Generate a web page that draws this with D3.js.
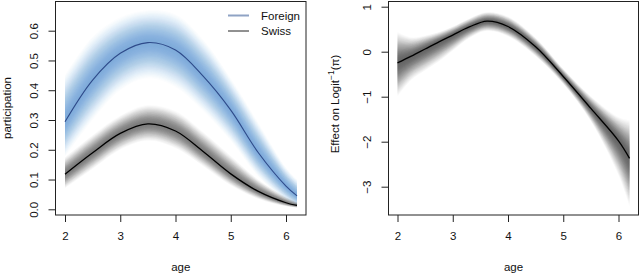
<!DOCTYPE html>
<html>
<head>
<meta charset="utf-8">
<script src="https://cdn.jsdelivr.net/npm/d3@7"></script>
<style>
  body { margin: 0; background: #fff; }
  svg { display: block; font-family: "Liberation Sans", Arial, sans-serif; }
</style>
</head>
<body>
<svg id="chart" width="640" height="273"></svg>
<script>
// --- data ---
var ages = [2, 2.5, 3, 3.5, 4, 4.5, 5, 5.5, 6, 6.2];
var foreignMean  = [0.294, 0.434, 0.524, 0.560, 0.535, 0.447, 0.333, 0.190, 0.078, 0.045];
var foreignUpper = [0.451, 0.580, 0.645, 0.669, 0.655, 0.570, 0.440, 0.290, 0.140, 0.100];
var foreignLower = [0.177, 0.300, 0.400, 0.440, 0.410, 0.330, 0.230, 0.110, 0.030, 0.010];
var swissMean  = [0.118, 0.190, 0.255, 0.287, 0.263, 0.194, 0.119, 0.060, 0.022, 0.013];
var swissUpper = [0.175, 0.250, 0.315, 0.350, 0.330, 0.260, 0.180, 0.100, 0.042, 0.025];
var swissLower = [0.070, 0.135, 0.200, 0.230, 0.205, 0.145, 0.080, 0.035, 0.010, 0.005];

var effectAges  = [2, 2.25, 2.5, 2.75, 3, 3.3, 3.62, 4, 4.5, 5, 5.5, 6, 6.2];
var effectMean  = [-0.25, -0.10, 0.06, 0.22, 0.37, 0.55, 0.68, 0.56, 0.11, -0.55, -1.26, -1.98, -2.37];
var effectUpper = [0.44, 0.32, 0.36, 0.44, 0.56, 0.74, 0.88, 0.78, 0.31, -0.38, -0.99, -1.45, -1.52];
var effectLower = [-1.00, -0.63, -0.42, -0.22, 0.02, 0.30, 0.46, 0.34, -0.10, -0.72, -1.55, -2.75, -3.44];

var xTicks = [2, 3, 4, 5, 6];
var leftYTicks = [0, 0.1, 0.2, 0.3, 0.4, 0.5, 0.6];
var rightYTicks = [-3, -2, -1, 0, 1];
var legendLabels = ["Foreign", "Swiss"];

var svg = d3.select("#chart");
var fontSize = 11.5;
var levels = 30;

function rows(xs, m, lo, hi) {
  return xs.map(function(x, i) { return {x: x, m: m[i], lo: lo[i], hi: hi[i]}; });
}

// shaded strip: nested bands, darkness falls off like a bell toward the edges
function strip(g, x, y, data, color, total) {
  var c = 1.6;
  function dark(s) {
    if (s > 1) return 0;
    return total * (Math.exp(-c * s * s) - Math.exp(-c)) / (1 - Math.exp(-c));
  }
  for (var k = levels; k >= 1; k--) {
    var t = k / levels;
    var s0 = (k - 1) / levels;
    var a = 1 - (1 - dark(s0)) / (1 - dark(t));
    var area = d3.area()
      .curve(d3.curveCatmullRom)
      .x(function(d) { return x(d.x); })
      .y0(function(d) { return y(d.m - t * (d.m - d.lo)); })
      .y1(function(d) { return y(d.m + t * (d.hi - d.m)); });
    g.append("path").datum(data)
      .attr("d", area)
      .attr("fill", color)
      .attr("fill-opacity", a);
  }
}

function line(g, x, y, data, color, w) {
  g.append("path").datum(data)
    .attr("d", d3.line().curve(d3.curveCatmullRom)
      .x(function(d) { return x(d.x); })
      .y(function(d) { return y(d.m); }))
    .attr("fill", "none")
    .attr("stroke", color)
    .attr("stroke-width", w);
}

function frame(box, x, y, yt, yfmt) {
  var g = svg.append("g");
  g.append("rect")
    .attr("x", box.x0).attr("y", box.y0)
    .attr("width", box.x1 - box.x0).attr("height", box.y1 - box.y0)
    .attr("fill", "none").attr("stroke", "#222").attr("stroke-width", 1);

  var ax = g.append("g").attr("transform", "translate(0," + box.y1 + ")")
    .call(d3.axisBottom(x).tickValues(xTicks).tickSize(7).tickSizeOuter(0).tickPadding(10)
      .tickFormat(d3.format("d")));
  ax.select(".domain").remove();
  ax.selectAll("line").attr("stroke", "#222");
  ax.selectAll("text").attr("font-size", fontSize).attr("fill", "#111").attr("font-family", null);

  var ay = g.append("g").attr("transform", "translate(" + box.x0 + ",0)")
    .call(d3.axisLeft(y).tickValues(yt).tickSize(7).tickSizeOuter(0).tickFormat(yfmt));
  ay.select(".domain").remove();
  ay.selectAll("line").attr("stroke", "#222");
  ay.selectAll("text").attr("font-size", fontSize).attr("fill", "#111").attr("font-family", null)
    .attr("text-anchor", "middle").attr("dy", null)
    .attr("transform", "translate(-22,0) rotate(-90)")
    .attr("x", 0).attr("y", 0)
    .attr("dominant-baseline", "central");

  g.append("text")
    .attr("x", (box.x0 + box.x1) / 2).attr("y", 271)
    .attr("text-anchor", "middle").attr("font-size", fontSize).attr("fill", "#111")
    .text("age");
  return g;
}

// --- left panel ---
var boxL = {x0: 55.5, x1: 306, y0: 1.5, y1: 215};
var xL = d3.scaleLinear().domain([2, 6]).range([65, 286]);
var yL = d3.scaleLinear().domain([0, 0.6]).range([209.3, 30.7]);

var gL = svg.append("g");
strip(gL, xL, yL, rows(ages, foreignMean, foreignLower, foreignUpper), "#3f86cc", 0.62);
strip(gL, xL, yL, rows(ages, swissMean, swissLower, swissUpper), "#333", 0.6);
line(gL, xL, yL, rows(ages, foreignMean, foreignLower, foreignUpper), "#2e4a8a", 1.1);
line(gL, xL, yL, rows(ages, swissMean, swissLower, swissUpper), "#000", 1.3);

frame(boxL, xL, yL, leftYTicks, d3.format(".1f"));
svg.append("text")
  .attr("transform", "translate(11,108) rotate(-90)")
  .attr("text-anchor", "middle").attr("font-size", fontSize).attr("fill", "#111")
  .text("participation");

var legend = svg.append("g");
var legendColors = ["#8fa3c4", "#222"];
var legendWidths = [2, 1];
legendLabels.forEach(function(lab, i) {
  var yy = 15.5 + i * 15.5;
  legend.append("line").attr("x1", 228).attr("x2", 249).attr("y1", yy).attr("y2", yy)
    .attr("stroke", legendColors[i]).attr("stroke-width", legendWidths[i]);
  legend.append("text").attr("x", 261).attr("y", yy).attr("dy", "0.35em")
    .attr("font-size", fontSize).attr("fill", "#111").text(lab);
});

// --- right panel ---
var boxR = {x0: 388.5, x1: 638.5, y0: 1.5, y1: 215};
var xR = d3.scaleLinear().domain([2, 6]).range([397.5, 618.5]);
var yR = d3.scaleLinear().domain([0, 1]).range([51.7, 6.7]);

var gR = svg.append("g");
var eff = rows(effectAges, effectMean, effectLower, effectUpper);
strip(gR, xR, yR, eff, "#333", 0.72);
line(gR, xR, yR, eff, "#000", 1.3);

frame(boxR, xR, yR, rightYTicks, function(d) { return d < 0 ? "\u2212" + (-d) : "" + d; });
var yl = svg.append("text")
  .attr("transform", "translate(339,104) rotate(-90)")
  .attr("text-anchor", "middle").attr("font-size", fontSize).attr("fill", "#111");
yl.append("tspan").text("Effect on Logit");
yl.append("tspan").attr("dy", -5).attr("font-size", 8.5).text("\u22121");
yl.append("tspan").attr("dy", 5).text("(\u03c0)");
</script>
</body>
</html>
